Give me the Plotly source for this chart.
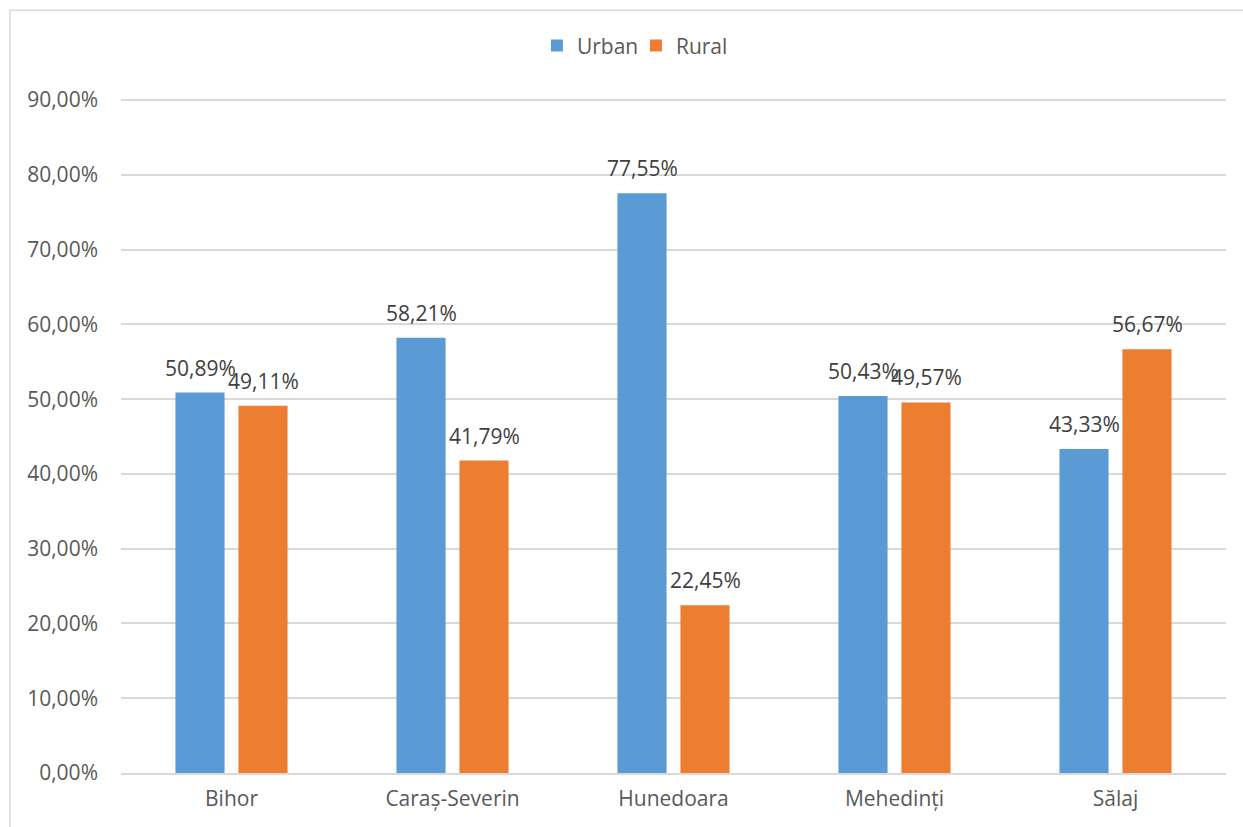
import plotly.graph_objects as go

# County-level shares of urban vs rural population (%)
counties = ["Bihor", "Caraș-Severin", "Hunedoara", "Mehedinți", "Sălaj"]
urban = [50.89, 58.21, 77.55, 50.43, 43.33]
rural = [49.11, 41.79, 22.45, 49.57, 56.67]

BLUE = "#5B9BD5"
ORANGE = "#ED7D31"
GRID = "#D9D9D9"
FONT = "Open Sans"

fig = go.Figure()
fig.add_trace(go.Bar(name="Urban", x=counties, y=urban, marker=dict(color=BLUE, line=dict(width=0))))
fig.add_trace(go.Bar(name="Rural", x=counties, y=rural, marker=dict(color=ORANGE, line=dict(width=0))))


def pct(v):
    return f"{v:.2f}".replace(".", ",") + "%"


# value labels above each bar, offset to the bar's slot in the group
annotations = []
for series, shift in ((urban, -31.5), (rural, 31.5)):
    for c, v in zip(counties, series):
        annotations.append(dict(
            x=c, y=v, xref="x", yref="y", text=pct(v), showarrow=False,
            xshift=shift, yshift=9, yanchor="bottom",
            font=dict(family=FONT, size=21, color="#404040"),
        ))

fig.update_layout(
    width=1243, height=827,
    margin=dict(l=121, r=17, t=99, b=54),
    paper_bgcolor="white", plot_bgcolor="white",
    separators=",.",
    barmode="group", bargap=0.43, bargroupgap=0.22,
    font=dict(family=FONT, size=21, color="#595959"),
    legend=dict(
        orientation="h", x=0.466, xanchor="center", y=1.079, yanchor="middle",
        font=dict(family=FONT, size=21, color="#595959"),
        itemwidth=30, traceorder="normal", entrywidth=54,
    ),
    annotations=annotations,
    shapes=[dict(
        type="rect", xref="paper", yref="paper",
        x0=-0.1005, y0=-0.2, x1=1.2, y1=1.1315,
        line=dict(color=GRID, width=1.5), fillcolor="rgba(0,0,0,0)", layer="below",
    )],
    xaxis=dict(
        showgrid=False, showline=True, linecolor=GRID, linewidth=1.5,
        ticks="", tickfont=dict(family=FONT, size=21, color="#595959"),
        ticklabelstandoff=6,
    ),
    yaxis=dict(
        range=[0, 90.15], dtick=10, tickformat=".2f", ticksuffix="%",
        showgrid=True, gridcolor=GRID, gridwidth=1.5,
        zeroline=False, showline=False, ticks="",
        tickfont=dict(family=FONT, size=21, color="#595959"),
        ticklabelstandoff=22,
    ),
)

fig.write_html("out.html")
